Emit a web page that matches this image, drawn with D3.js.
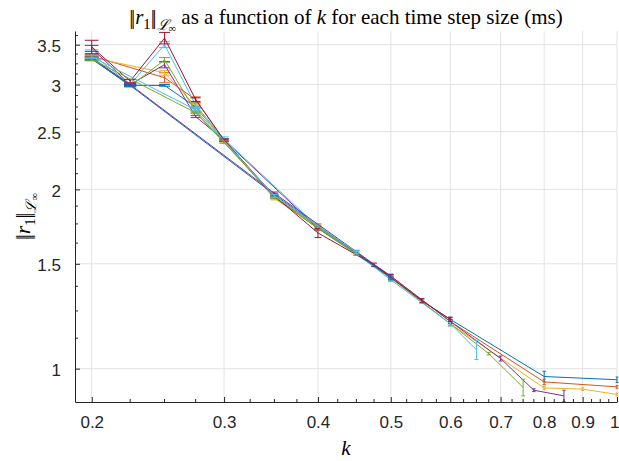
<!DOCTYPE html>
<html>
<head>
<meta charset="utf-8">
<script src="https://cdn.jsdelivr.net/npm/d3@7"></script>
<style>
  html, body { margin: 0; padding: 0; background: #fff; }
  svg { display: block; }
</style>
</head>
<body>
<svg id="chart" width="619" height="461"></svg>
<script>
// Residual norm versus k, one polyline with error bars per time step size.
const colors = ["#0072BD", "#D95319", "#EDB120", "#7E2F8E", "#77AC30", "#4DBEEE", "#A2142F"];

const k1 = [0.2, 0.225, 0.25, 0.275, 0.3, 0.35, 0.4, 0.45, 0.5, 0.55, 0.6, 0.8, 1];
const v1 = [3.32, 2.99, 2.99, 2.75, 2.42, 1.94, 1.72, 1.57, 1.42, 1.30, 1.21, 0.97, 0.958];
const e1 = [0.02, 0.01, 0.01, 0.01, 0.01, 0.01, 0.01, 0.01, 0.01, 0.01, 0.01, 0.02, 0.01];

const k2 = [0.2, 0.25, 0.275, 0.3, 0.35, 0.4, 0.5, 0.6, 0.8, 1];
const v2 = [3.35, 3.08, 2.83, 2.42, 1.94, 1.73, 1.43, 1.20, 0.95, 0.932];
const e2 = [0.02, 0.06, 0.03, 0.01, 0.01, 0.02, 0.01, 0.01, 0.01, 0.005];

const k3 = [0.2, 0.25, 0.275, 0.3, 0.35, 0.4, 0.5, 0.6, 0.8, 0.9, 1];
const v3 = [3.33, 3.14, 2.76, 2.41, 1.93, 1.73, 1.42, 1.19, 0.928, 0.924, 0.905];
const e3 = [0.02, 0.03, 0.02, 0.01, 0.01, 0.02, 0.01, 0.01, 0.005, 0.005, 0.005];

const k4 = [0.2, 0.225, 0.25, 0.275, 0.3, 0.4, 0.5, 0.6, 0.7, 0.775, 0.85];
const v4 = [3.45, 3.00, 3.24, 2.65, 2.42, 1.72, 1.43, 1.20, 1.04, 0.92, 0.90];
const e4 = [0.04, 0.01, 0.04, 0.01, 0.01, 0.01, 0.01, 0.01, 0.01, 0.005, 0.02];

const k5 = [0.2, 0.225, 0.25, 0.275, 0.3, 0.35, 0.4, 0.5, 0.6, 0.675, 0.75];
const v5 = [3.32, 2.98, 3.30, 2.70, 2.40, 1.94, 1.72, 1.42, 1.19, 1.06, 0.93];
const e5 = [0.02, 0.01, 0.03, 0.01, 0.01, 0.01, 0.01, 0.01, 0.01, 0.005, 0.03];

const k6 = [0.2, 0.225, 0.25, 0.275, 0.3, 0.4, 0.45, 0.5, 0.6, 0.65];
const v6 = [3.38, 3.00, 3.50, 2.77, 2.43, 1.73, 1.56, 1.41, 1.19, 1.076];
const e6 = [0.05, 0.01, 0.04, 0.02, 0.02, 0.01, 0.01, 0.01, 0.01, 0.04];

const k7 = [0.2, 0.225, 0.25, 0.275, 0.3, 0.35, 0.4, 0.475, 0.55, 0.6];
const v7 = [3.47, 3.04, 3.59, 2.83, 2.42, 1.95, 1.69, 1.494, 1.30, 1.21];
const e7 = [0.09, 0.02, 0.08, 0.02, 0.01, 0.01, 0.03, 0.01, 0.01, 0.01];

const k8 = [0.2, 0.225, 0.35, 0.5];
const v8 = [3.31, 2.99, 1.96, 1.42];
const e8 = [0.02, 0.01, 0.01, 0.01];

const k9 = [0.2, 0.225, 0.35, 0.5];
const v9 = [3.33, 3.00, 1.97, 1.43];
const e9 = [0.02, 0.01, 0.01, 0.01];

const k10 = [0.2, 0.275, 0.35, 0.45];
const v10 = [3.31, 2.69, 1.95, 1.56];
const e10 = [0.02, 0.01, 0.01, 0.01];

const k11 = [0.2, 0.275, 0.35, 0.45];
const v11 = [3.34, 2.72, 1.95, 1.57];
const e11 = [0.02, 0.01, 0.01, 0.01];

const xMajor = [0.2, 0.3, 0.4, 0.5, 0.6, 0.7, 0.8, 0.9, 1];
const xMajorLabels = ["0.2", "0.3", "0.4", "0.5", "0.6", "0.7", "0.8", "0.9", "1"];
const yMajor = [1, 1.5, 2, 2.5, 3, 3.5];
const yMajorLabels = ["1", "1.5", "2", "2.5", "3", "3.5"];

(function draw() {
  const series = [
    { k: k1, v: v1, e: e1, color: colors[0] },
    { k: k2, v: v2, e: e2, color: colors[1] },
    { k: k3, v: v3, e: e3, color: colors[2] },
    { k: k4, v: v4, e: e4, color: colors[3] },
    { k: k5, v: v5, e: e5, color: colors[4] },
    { k: k6, v: v6, e: e6, color: colors[5] },
    { k: k7, v: v7, e: e7, color: colors[6] },
    { k: k8, v: v8, e: e8, color: colors[0] },
    { k: k9, v: v9, e: e9, color: colors[3] },
    { k: k10, v: v10, e: e10, color: colors[4] },
    { k: k11, v: v11, e: e11, color: colors[5] }
  ];

  const svg = d3.select("#chart");
  const pl = 75, pr = 617, pt = 31, pb = 402;
  const x = d3.scaleLog().domain([0.19, 1]).range([pl, pr]);
  const y = d3.scaleLog().domain([0.879, 3.69]).range([pb, pt]);

  const axisColor = "#262626";
  const gridColor = "#e3e3e3";

  // minor tick positions every 0.025 in k and 0.125 in the norm
  const xMinor = d3.range(8, 41).map(i => i * 0.025)
    .filter(v => !xMajor.some(m => Math.abs(m - v) < 1e-9) && v >= 0.19 && v <= 1);
  const yMinor = d3.range(7, 30).map(i => i * 0.125)
    .filter(v => !yMajor.some(m => Math.abs(m - v) < 1e-9) && v >= 0.879 && v <= 3.69);

  // grid
  const grid = svg.append("g");
  grid.selectAll(".gx").data(xMajor).join("line")
    .attr("x1", d => x(d)).attr("x2", d => x(d))
    .attr("y1", pt).attr("y2", pb)
    .attr("stroke", gridColor).attr("stroke-width", 1);
  grid.selectAll(".gy").data(yMajor).join("line")
    .attr("x1", pl).attr("x2", pr)
    .attr("y1", d => y(d)).attr("y2", d => y(d))
    .attr("stroke", gridColor).attr("stroke-width", 1);

  // data
  const capHalf = 0.0042;
  const plot = svg.append("g");
  const line = d3.line().x(d => x(d[0])).y(d => y(d[1]));
  series.forEach(s => {
    const pts = s.k.map((k, i) => [k, s.v[i], s.e[i]]);
    const g = plot.append("g").attr("stroke", s.color).attr("fill", "none").attr("stroke-width", 1);
    g.append("path").attr("d", line(pts));
    pts.forEach(p => {
      const lo = p[1] - p[2], hi = p[1] + p[2];
      g.append("line").attr("x1", x(p[0])).attr("x2", x(p[0])).attr("y1", y(lo)).attr("y2", y(hi));
      g.append("line").attr("x1", x(p[0] - capHalf)).attr("x2", x(p[0] + capHalf)).attr("y1", y(lo)).attr("y2", y(lo));
      g.append("line").attr("x1", x(p[0] - capHalf)).attr("x2", x(p[0] + capHalf)).attr("y1", y(hi)).attr("y2", y(hi));
    });
  });

  // axes
  const xAxis = d3.axisBottom(x).tickValues(xMajor).tickFormat((d, i) => xMajorLabels[i])
    .tickSizeInner(-5).tickSizeOuter(0).tickPadding(14);
  const gx = svg.append("g").attr("transform", `translate(0,${pb})`).call(xAxis);
  const yAxis = d3.axisLeft(y).tickValues(yMajor).tickFormat((d, i) => yMajorLabels[i])
    .tickSizeInner(-5).tickSizeOuter(0).tickPadding(14);
  const gy = svg.append("g").attr("transform", `translate(${pl},0)`).call(yAxis);
  [gx, gy].forEach(g => {
    g.select(".domain").attr("stroke", axisColor);
    g.selectAll(".tick line").attr("stroke", axisColor);
    g.selectAll(".tick text").attr("fill", axisColor)
      .style("font-family", "'Liberation Sans', Arial, sans-serif").style("font-size", "17px");
  });
  gx.selectAll(".tick text").attr("dy", "0.71em");
  // keep the last label inside the canvas
  gx.selectAll(".tick text").filter(d => Math.abs(d - 1) < 1e-9)
    .attr("text-anchor", "end").attr("dx", "2");
  gy.selectAll(".tick text").attr("dy", "0.42em");

  svg.append("g").selectAll("line").data(xMinor).join("line")
    .attr("x1", d => x(d)).attr("x2", d => x(d)).attr("y1", pb).attr("y2", pb - 3)
    .attr("stroke", axisColor);
  svg.append("g").selectAll("line").data(yMinor).join("line")
    .attr("x1", pl).attr("x2", pl + 3).attr("y1", d => y(d)).attr("y2", d => y(d))
    .attr("stroke", axisColor);

  // labels
  const serif = "'Liberation Serif', 'DejaVu Serif', serif";
  function normLabel(t, size) {
    t.append("tspan").attr("letter-spacing", -0.12 * size).text("||");
    t.append("tspan").attr("dx", 0.12 * size).attr("font-style", "italic").text("r");
    t.append("tspan").attr("font-size", size * 0.7).attr("dy", size * 0.22).text("1");
    t.append("tspan").attr("dy", -size * 0.22).attr("letter-spacing", -0.12 * size).text("||");
    t.append("tspan").attr("dx", 0.12 * size).attr("font-size", size * 0.7).attr("dy", size * 0.3)
      .attr("font-style", "italic").text("\u2112");
    t.append("tspan").attr("font-size", size * 0.5).attr("dy", size * 0.1).text("\u221E");
  }

  const title = svg.append("text")
    .attr("x", (pl + pr) / 2).attr("y", 24)
    .attr("text-anchor", "middle").attr("fill", "#000")
    .style("font-family", serif).style("font-size", "21px");
  normLabel(title, 21);
  title.append("tspan").attr("dy", -21 * 0.4).text(" as a function of ");
  title.append("tspan").attr("font-style", "italic").text("k");
  title.append("tspan").text(" for each time step size (ms)");

  svg.append("text")
    .attr("x", (pl + pr) / 2).attr("y", 455)
    .attr("text-anchor", "middle").attr("fill", "#000")
    .style("font-family", serif).style("font-size", "21px").attr("font-style", "italic")
    .text("k");

  const yl = svg.append("text")
    .attr("transform", `translate(30,${(pt + pb) / 2}) rotate(-90)`)
    .attr("text-anchor", "middle").attr("fill", "#000")
    .style("font-family", serif).style("font-size", "21px");
  normLabel(yl, 21);
})();
</script>
</body>
</html>
